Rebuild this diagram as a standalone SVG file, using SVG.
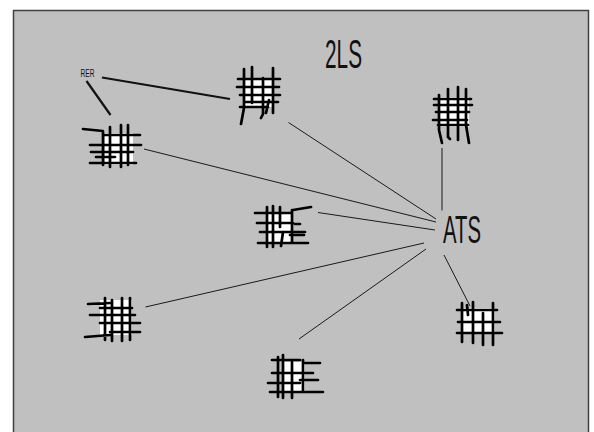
<svg xmlns="http://www.w3.org/2000/svg" width="594" height="432" viewBox="0 0 594 432">
<style>
.lbl{font-family:"Liberation Sans","DejaVu Sans",sans-serif;fill:#111}
.edge{stroke:#1a1a1a;stroke-width:1;fill:none}
.edge2{stroke:#111;stroke-width:2.2;fill:none}
.fill{fill:#fff;stroke:none}
.s{stroke:#000;stroke-width:2.7;stroke-linecap:round;stroke-linejoin:round;fill:none}
</style>
<rect x="0" y="0" width="594" height="432" fill="#fff"/>
<rect x="13.5" y="10.5" width="575" height="430" fill="#c0c0c0" stroke="#404040" stroke-width="1.5"/>
<g id="connectors">
<path class="edge2" d="M102,77.5 L230,99"/>
<path class="edge2" d="M86.5,81 L110.5,115"/>
<path class="edge" d="M288.5,122.5 L436,219"/>
<path class="edge" d="M144,149 L436,222"/>
<path class="edge" d="M318,212.5 L435,230"/>
<path class="edge" d="M145.5,307 L424,243"/>
<path class="edge" d="M299,339 L426,249"/>
<path class="edge" d="M444,255 L470,306"/>
<path class="edge" d="M442,148 L442,210.5"/>
</g>
<g id="title"><text class="lbl" x="325" y="68" font-size="41" textLength="37" lengthAdjust="spacingAndGlyphs">2LS</text></g>
<g id="ATS"><text class="lbl" x="443" y="243" font-size="39" textLength="38" lengthAdjust="spacingAndGlyphs">ATS</text></g>
<g id="RER"><text class="lbl" x="80.5" y="77" font-size="11" textLength="14" lengthAdjust="spacingAndGlyphs">RER</text></g>
<g id="nodeA">
<rect class="fill" x="244" y="79" width="30" height="28"/>
<path class="s" d="M238,79 H280 M237,87 H279 M240,95 H280 M246,102 H278 M240,107 H268 M244,69 V108 L241,124 M252,67 V103 M263,78 V114 L261,118 M273,68 V113 M269,100 L266,113"/>
</g>
<g id="nodeB">
<rect class="fill" x="105" y="133" width="28" height="32"/>
<path class="s" d="M83,129 L103,131 M105,135 H140 M90,145 H141 M91,152 H133 M96,157 H115 M90,163 H136 M103,132 V165 M110,127 V167 M121,125 V167 M128,125 V165"/>
</g>
<g id="nodeC">
<rect class="fill" x="438" y="97" width="31" height="30"/>
<path class="s" d="M434,99 H471 M434,105 H472 M436,112 H469 M433,120 H467 M438,125 H468 M439,95 V130 L442,143 M448,89 V137 L450,139 M458,87 V140 M466,89 V125 L469,143"/>
</g>
<g id="nodeD">
<rect class="fill" x="267" y="212" width="25" height="31"/>
<path class="s" d="M255,213 H292 M293,210 L311,207 M257,223 H293 M295,224 H300 M260,232 H305 M290,235 H304 M258,243 H308 M267,207 V247 M273,206 V247 M280,207 V227 M283,232 L281,246 M292,210 V243"/>
</g>
<g id="nodeE">
<rect class="fill" x="100" y="300" width="32" height="35"/>
<path class="s" d="M88,304 L110,303 M100,308 H132 M90,315 H135 M100,323 H140 M110,332 H140 M85,337 L110,335 M105,298 V340 M112,300 V341 M122,298 V341 M130,298 V340"/>
</g>
<g id="nodeF">
<rect class="fill" x="283" y="362" width="22" height="30"/>
<path class="s" d="M272,360 H300 M303,363 H320 M272,373 H313 M300,380 H318 M268,383 H300 M270,392 H323 M278,357 V397 M283,355 V398 M292,362 V398 M303,360 V392"/>
</g>
<g id="nodeG">
<rect class="fill" x="463" y="308" width="32" height="25"/>
<path class="s" d="M457,310 H497 M458,322 H500 M457,333 H502 M462,303 V342 M467,305 L468,315 M473,302 V343 M483,313 V345 M493,303 V345"/>
</g>
</svg>
